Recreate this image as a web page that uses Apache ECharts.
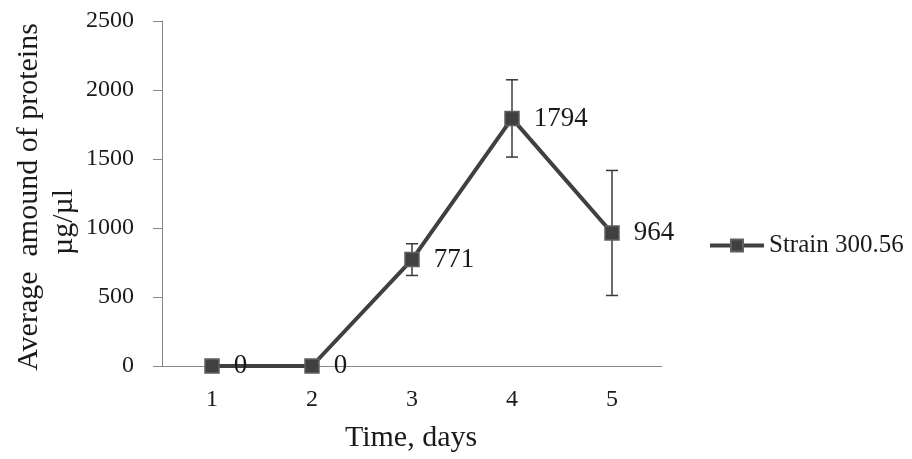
<!DOCTYPE html>
<html>
<head>
<meta charset="utf-8">
<script src="https://cdn.jsdelivr.net/npm/echarts@6/dist/echarts.min.js"></script>
<style>html,body{margin:0;padding:0;background:#fff}#c{width:912px;height:459px}</style>
</head>
<body>
<div id="c"></div>
<script>
const categories = ['1', '2', '3', '4', '5'];
const values = [0, 0, 771, 1794, 964];
const errors = [0, 0, 115, 280, 453];
const seriesName = 'Strain 300.56';
const xTitle = 'Time, days';
const yTitle1 = 'Average  amound of proteins';
const yTitle2 = 'µg/µl';

const FONT = 'Liberation Serif';
const errData = categories.map((c, i) => [i, values[i] - errors[i], values[i] + errors[i]]).filter((d, i) => errors[i] > 0);

const chart = echarts.init(document.getElementById('c'));
chart.setOption({
  animation: false,
  backgroundColor: '#fff',
  grid: { left: 162, top: 21, width: 500, height: 345, containLabel: false },
  legend: {
    left: 703, top: 228,
    itemWidth: 54, itemHeight: 15, itemGap: 6,
    data: [seriesName],
    lineStyle: { width: 4 },
    textStyle: { fontFamily: FONT, fontSize: 25, color: '#1a1a1a' }
  },
  xAxis: {
    type: 'category', data: categories, boundaryGap: true,
    axisLine: { lineStyle: { color: '#868686', width: 1 } },
    axisTick: { show: false },
    axisLabel: { fontFamily: FONT, fontSize: 24, color: '#1a1a1a', margin: 22 }
  },
  yAxis: {
    type: 'value', min: 0, max: 2500, interval: 500,
    splitLine: { show: false },
    axisLine: { show: true, lineStyle: { color: '#868686', width: 1 } },
    axisTick: { show: true, length: 9, lineStyle: { color: '#868686' } },
    axisLabel: { fontFamily: FONT, fontSize: 24, color: '#1a1a1a', margin: 28, formatter: v => String(v) }
  },
  graphic: [
    { type: 'text', x: 411, y: 438, style: { text: xTitle, fontFamily: FONT, fontSize: 30, fill: '#1a1a1a', textAlign: 'center', textVerticalAlign: 'middle' } },
    { type: 'text', x: 29, y: 197, rotation: Math.PI / 2, style: { text: yTitle1, fontFamily: FONT, fontSize: 30, fill: '#1a1a1a', textAlign: 'center', textVerticalAlign: 'middle' } },
    { type: 'text', x: 64, y: 222, rotation: Math.PI / 2, style: { text: yTitle2, fontFamily: FONT, fontSize: 30, fill: '#1a1a1a', textAlign: 'center', textVerticalAlign: 'middle' } }
  ],
  series: [
    {
      type: 'custom', name: 'err', z: 3,
      data: errData,
      renderItem: function (params, api) {
        const x = api.value(0);
        const lo = api.coord([x, api.value(1)]);
        const hi = api.coord([x, api.value(2)]);
        const hw = 6;
        const st = { stroke: '#3a3a3a', lineWidth: 1.5 };
        return { type: 'group', children: [
          { type: 'line', shape: { x1: lo[0], y1: lo[1], x2: hi[0], y2: hi[1] }, style: st },
          { type: 'line', shape: { x1: lo[0] - hw, y1: lo[1], x2: lo[0] + hw, y2: lo[1] }, style: st },
          { type: 'line', shape: { x1: hi[0] - hw, y1: hi[1], x2: hi[0] + hw, y2: hi[1] }, style: st }
        ]};
      }
    },
    {
      type: 'line', name: seriesName, data: values, z: 4,
      symbol: 'rect', symbolSize: 14,
      lineStyle: { color: '#404040', width: 4 },
      itemStyle: { color: '#404040', borderColor: '#606060', borderWidth: 1.5 },
      label: { show: true, position: 'right', distance: 14, fontFamily: FONT, fontSize: 27, color: '#1a1a1a' }
    }
  ]
});
</script>
</body>
</html>
